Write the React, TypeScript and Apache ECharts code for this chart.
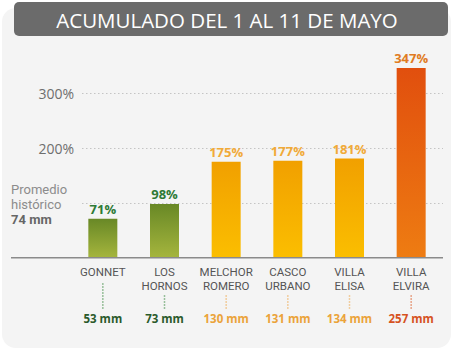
import React, { useEffect, useRef } from "react";
import * as echarts from "echarts";

const categories = ["GONNET", "LOS\nHORNOS", "MELCHOR\nROMERO", "CASCO\nURBANO", "VILLA\nELISA", "VILLA\nELVIRA"];
const percentValues = [71, 98, 175, 177, 181, 347];
const mmValues = [53, 73, 130, 131, 134, 257];
const colorGroups = ["green", "green", "yellow", "yellow", "yellow", "red"];
const yTicks = [100, 200, 300];
const titleText = "ACUMULADO DEL 1 AL 11 DE MAYO";

const FONT = "'Open Sans', 'Noto Sans', sans-serif";
const TIGHT = "Roboto, 'Liberation Sans', sans-serif";

const palette: Record<string, { top: string; bottom: string; label: string; mm: string; dot: string }> = {
  green: { top: "#688826", bottom: "#a5b53d", label: "#2e7a36", mm: "#2b5a2b", dot: "#3b8a40" },
  yellow: { top: "#f1a000", bottom: "#fbbe00", label: "#f1aa38", mm: "#eba33a", dot: "#eea648" },
  red: { top: "#e14f0e", bottom: "#ee7c12", label: "#e07b22", mm: "#d6521f", dot: "#d9561f" },
};

export default function App() {
  const ref = useRef<HTMLDivElement>(null);

  useEffect(() => {
    if (!ref.current) return;
    const chart = echarts.init(ref.current, null, { renderer: "svg" });

    const zeroY = 257.4;
    const pxPer100 = 54.6;

    const option: any = {
      animation: false,
      backgroundColor: "#ffffff",
      textStyle: { fontFamily: FONT },
      graphic: [
        {
          type: "rect",
          z: -10,
          shape: { x: 2, y: 8, width: 449, height: 340, r: 14 },
          style: { fill: "#f4f4f4" },
          silent: true,
        },
        {
          type: "rect",
          z: 10,
          shape: { x: 14, y: 2, width: 434, height: 34, r: 5 },
          style: { fill: "#6b6b6b" },
        },
        {
          type: "text",
          z: 11,
          x: 227,
          y: 19.5,
          style: {
            text: titleText,
            fill: "#ffffff",
            font: `500 20.5px ${FONT}`,
            align: "center",
            verticalAlign: "middle",
          },
        },
        {
          type: "line",
          z: 5,
          shape: { x1: 11, y1: zeroY + 0.3, x2: 443, y2: zeroY + 0.3 },
          style: { stroke: "#8a8a8a", lineWidth: 1.5 },
        },
        {
          type: "text",
          z: 5,
          x: 11,
          y: 182,
          style: {
            text: "{a|Promedio}\n{a|histórico}\n{b|74 mm}",
            rich: {
              a: { fontSize: 13, fill: "#8c8c8c", fontFamily: TIGHT, lineHeight: 15 },
              b: { fontSize: 13, fill: "#666666", fontWeight: "bold", fontFamily: TIGHT, lineHeight: 15 },
            },
          },
        },
      ],
      grid: [
        { left: 72, right: 11, top: zeroY - 3.5 * pxPer100, bottom: 350 - zeroY },
        { left: 82, right: 10, top: zeroY - 3 * pxPer100, bottom: 350 - zeroY },
      ],
      xAxis: [
        {
          type: "category",
          gridIndex: 0,
          data: categories,
          axisLine: { show: false },
          axisTick: { show: false },
          axisLabel: {
            color: "#555555",
            fontSize: 11.5,
            lineHeight: 13.5,
            margin: 8,
            fontFamily: TIGHT,
            interval: 0,
          },
        },
        {
          type: "value",
          gridIndex: 1,
          show: false,
          min: 0,
          max: 1,
        },
      ],
      yAxis: [
        {
          type: "value",
          gridIndex: 0,
          min: 0,
          max: 350,
          show: false,
          splitLine: { show: false },
        },
        {
          type: "value",
          gridIndex: 1,
          min: 0,
          max: 300,
          interval: 100,
          axisLine: { show: false },
          axisTick: { show: false },
          splitLine: {
            show: true,
            lineStyle: { color: "#c4c4c4", type: [1.5, 2.5], width: 1 },
          },
          axisLabel: {
            margin: 8,
            color: "#6e6e6e",
            fontSize: 14,
            fontFamily: FONT,
            formatter: (v: number) => (yTicks.indexOf(v) >= 1 ? `${v}%` : ""),
          },
        },
      ],
      series: [
        {
          type: "bar",
          xAxisIndex: 0,
          yAxisIndex: 0,
          barWidth: 29,
          z: 3,
          data: percentValues.map((v, i) => {
            const p = palette[colorGroups[i]];
            return {
              value: v,
              itemStyle: {
                color: new echarts.graphic.LinearGradient(0, 0, 0, 1, [
                  { offset: 0, color: p.top },
                  { offset: 1, color: p.bottom },
                ]),
              },
              label: { color: p.label },
            };
          }),
          label: {
            show: true,
            position: "top",
            distance: 3,
            fontSize: 13,
            fontWeight: "bold",
            fontFamily: FONT,
            formatter: "{c}%",
          },
        },
        {
          type: "custom",
          xAxisIndex: 0,
          yAxisIndex: 0,
          clip: false,
          z: 4,
          data: mmValues.map((v, i) => [i, v]),
          renderItem: (params: any, api: any) => {
            const idx = api.value(0);
            const pt = api.coord([idx, 0]);
            const x = pt[0];
            const y0 = pt[1];
            const p = palette[colorGroups[idx]];
            const twoLine = categories[idx].indexOf("\n") >= 0;
            return {
              type: "group",
              children: [
                {
                  type: "line",
                  shape: { x1: x, y1: y0 + (twoLine ? 38 : 26), x2: x, y2: y0 + 51 },
                  style: { stroke: p.dot, lineWidth: 1.5, lineDash: [1, 2] },
                },
                {
                  type: "text",
                  x: x,
                  y: y0 + 61,
                  style: {
                    text: `${api.value(1)} mm`,
                    fill: p.mm,
                    font: `bold 11.5px ${FONT}`,
                    align: "center",
                    verticalAlign: "middle",
                  },
                },
              ],
            };
          },
        },
      ],
    };

    chart.setOption(option);
    return () => chart.dispose();
  }, []);

  return (
    <div
      ref={ref}
      style={{ position: "absolute", left: 0, top: 0, width: 453, height: 350 }}
    />
  );
}
